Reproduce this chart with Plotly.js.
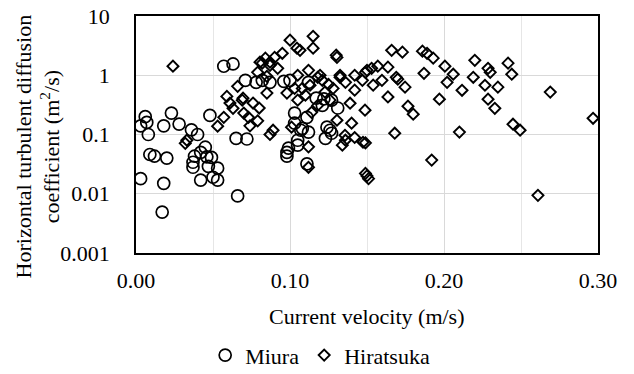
<!DOCTYPE html>
<html>
<head>
<meta charset="utf-8">
<script src="https://cdn.plot.ly/plotly-3.0.1.min.js"></script>
<style>html,body{margin:0;padding:0;background:#fff;}#chart{width:634px;height:374px;}</style>
</head>
<body>
<div id="chart"></div>
<script>
// Miura: current velocity (m/s) and diffusion coefficient (m2/s)
const miuraX = [0.003,0.006,0.007,0.003,0.008,0.018,0.023,0.028,0.036,0.040,0.048,
  0.009,0.012,0.020,0.018,0.017,0.066,0.065,0.072,
  0.045,0.042,0.038,0.037,0.037,0.046,0.049,0.047,0.053,0.042,0.050,0.053,
  0.057,0.063,0.071,0.078,0.082,0.087,0.096,0.100,0.112,
  0.117,0.121,0.131,0.103,0.111,0.103,0.108,0.112,0.107,0.124,0.127,0.126,
  0.105,0.099,0.105,0.098,0.098,0.111,0.123,0.122,0.127];
const miuraY = [0.018,0.20,0.16,0.14,0.10,0.14,0.23,0.15,0.12,0.10,0.21,
  0.046,0.043,0.040,0.015,0.0049,0.0092,0.086,0.084,
  0.061,0.050,0.043,0.034,0.028,0.042,0.041,0.029,0.027,0.017,0.019,0.017,
  1.42,1.55,0.82,0.76,0.82,0.76,0.79,0.82,0.76,
  0.41,0.31,0.28,0.23,0.195,0.155,0.127,0.11,0.118,0.133,0.105,0.118,
  0.080,0.059,0.066,0.050,0.043,0.032,0.086,0.40,0.38];

// Hiratsuka
const hiraX = [0.024,0.032,0.033,0.053,0.057,0.063,0.059,0.061,0.0695,0.076,0.080,0.069,
  0.070,0.073,0.079,0.074,0.089,0.087,0.101,0.066,0.085,0.098,0.103,0.108,0.105,
  0.079,0.085,0.082,0.087,0.092,0.084,0.0805,0.087,0.090,0.095,0.100,0.1045,0.1065,
  0.115,0.115,0.130,0.1305,0.112,0.118,0.105,0.1195,0.121,0.125,0.128,0.1227,
  0.1325,0.136,0.126,0.118,0.114,0.110,0.113,0.1325,0.142,0.147,0.154,0.1597,
  0.150,0.149,0.153,0.157,0.1636,0.169,0.170,0.1747,0.1636,0.1766,0.180,0.1487,
  0.139,0.142,0.1305,0.140,0.168,0.1357,0.1474,0.134,0.136,0.142,0.149,0.112,
  0.112,0.149,0.150,0.151,0.192,0.166,0.173,0.186,0.189,0.193,0.2006,0.187,
  0.206,0.202,0.2117,0.197,0.220,0.2286,0.230,0.2416,0.244,0.219,0.2266,0.235,
  0.2286,0.233,0.210,0.2448,0.2494,0.269,0.2968,0.261];
const hiraY = [1.42,0.071,0.080,0.138,0.195,0.277,0.44,0.34,0.41,0.34,0.28,0.38,
  0.23,0.195,0.17,0.14,0.118,0.10,0.133,0.65,0.50,0.50,0.60,0.60,0.38,
  1.12,0.96,1.6,1.47,1.31,1.94,1.66,1.66,2.0,2.35,3.9,2.86,2.64,
  4.55,2.86,2.18,2.0,1.21,0.925,1.0,1.0,0.82,0.70,0.60,0.52,
  0.925,0.76,0.38,0.31,0.237,0.46,0.678,1.0,1.0,0.82,0.68,0.82,
  1.21,1.12,1.31,1.42,1.37,0.925,0.86,0.63,0.43,0.30,0.22,0.257,
  0.337,0.56,0.174,0.155,0.105,0.097,0.074,0.066,0.08,0.089,0.072,0.062,
  0.028,0.022,0.020,0.018,0.037,2.64,2.45,2.55,2.35,1.94,1.42,1.08,
  1.04,0.76,0.558,0.394,1.79,1.31,1.12,1.6,1.04,0.925,0.678,0.63,
  0.394,0.277,0.11,0.149,0.118,0.52,0.188,0.0094];

const xTicks = [0, 0.1, 0.2, 0.3];
const xTickText = ['0.00', '0.10', '0.20', '0.30'];
const yTicks = [0.001, 0.01, 0.1, 1, 10];
const yTickText = ['0.001', '0.01', '0.1', '1', '10'];

const FONT = 'Liberation Serif';
const FS = 22;

const traces = [
  {x: miuraX, y: miuraY, name: 'Miura', type: 'scatter', mode: 'markers',
   marker: {symbol: 'circle-open', size: 12, color: '#000', line: {width: 1.7, color: '#000'}}},
  {x: hiraX, y: hiraY, name: 'Hiratsuka', type: 'scatter', mode: 'markers',
   marker: {symbol: 'diamond-open', size: 8.5, color: '#000', line: {width: 1.9, color: '#000'}}}
];

const layout = {
  width: 634, height: 374,
  margin: {l: 136, r: 36, t: 16, b: 121, autoexpand: false},
  paper_bgcolor: '#fff', plot_bgcolor: '#fff',
  font: {family: FONT, size: FS, color: '#000'},
  showlegend: true,
  legend: {orientation: 'h', xref: 'container', yref: 'container',
           x: 0.505, xanchor: 'center', y: 0.05, yanchor: 'middle',
           font: {family: FONT, size: FS, color: '#000'}, itemwidth: 30, tracegroupgap: 0},
  xaxis: {
    range: [0, 0.30], tickvals: xTicks, ticktext: xTickText, automargin: false,
    showgrid: true, gridcolor: '#d9d9d9', gridwidth: 1,
    minor: {dtick: 0.05, showgrid: true, gridcolor: '#e6e6e6', gridwidth: 1},
    showline: true, linecolor: '#000', linewidth: 1.8, mirror: true,
    ticks: '', ticklabelstandoff: 7, zeroline: false,
    tickfont: {family: FONT, size: FS, color: '#000'}
  },
  yaxis: {
    type: 'log', range: [-3, 1], tickvals: yTicks, ticktext: yTickText, automargin: false,
    showgrid: true, gridcolor: '#d9d9d9', gridwidth: 1,
    showline: true, linecolor: '#000', linewidth: 1.8, mirror: true,
    ticks: '', ticklabelstandoff: 20, zeroline: false,
    tickfont: {family: FONT, size: FS, color: '#000'}
  },
  annotations: [{
    text: 'Horizontal turbulent diffusion<br>coefficient (m<sup>2</sup>/s)',
    xref: 'paper', yref: 'paper', x: -0.212, y: 0.45,
    xanchor: 'center', yanchor: 'middle', textangle: -90, showarrow: false,
    font: {family: FONT, size: FS, color: '#000'}
  }, {
    text: 'Current velocity (m/s)',
    xref: 'paper', yref: 'paper', x: 0.5, y: -0.27,
    xanchor: 'center', yanchor: 'middle', showarrow: false,
    font: {family: FONT, size: FS, color: '#000'}
  }]
};

Plotly.newPlot('chart', traces, layout, {staticPlot: true, displayModeBar: false});
</script>
</body>
</html>
